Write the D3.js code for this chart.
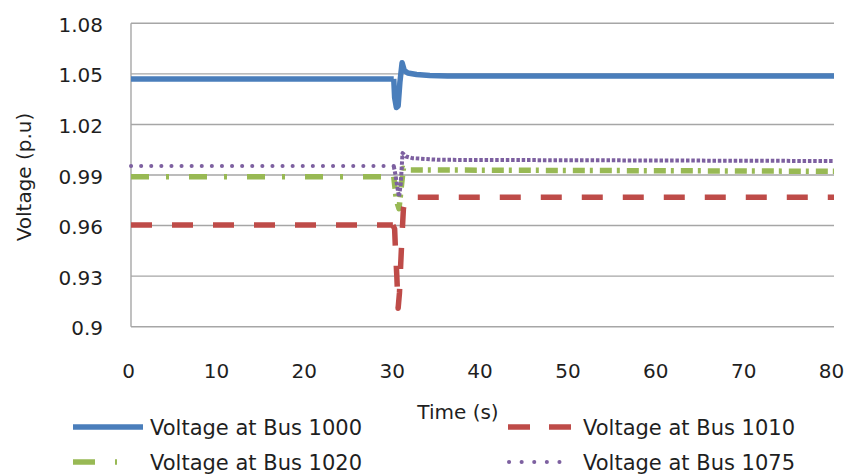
<!DOCTYPE html>
<html>
<head>
<meta charset="utf-8">
<script src="https://cdn.jsdelivr.net/npm/d3@7"></script>
<style>
  html, body { margin: 0; padding: 0; background: #fff; }
  text { font-family: "DejaVu Sans", "Noto Sans", sans-serif; fill: #1f1f1f; }
</style>
</head>
<body>
<svg id="chart" width="849" height="476"></svg>
<script>
// ---- data ----
const xTicks = [0, 10, 20, 30, 40, 50, 60, 70, 80];
const yTicks = [0.9, 0.93, 0.96, 0.99, 1.02, 1.05, 1.08];
const yTickLabels = ["0.9", "0.93", "0.96", "0.99", "1.02", "1.05", "1.08"];

const seriesNames = ["Voltage at Bus 1000", "Voltage at Bus 1010", "Voltage at Bus 1020", "Voltage at Bus 1075"];

const bus1000Time = [0, 29.9, 30.0, 30.2, 30.4, 30.6, 30.85, 31.1, 31.5, 32.5, 34, 36, 80];
const bus1000Volt = [1.047, 1.047, 1.036, 1.030, 1.031, 1.045, 1.0566, 1.052, 1.0505, 1.0496, 1.049, 1.0488, 1.0488];

const bus1010Time = [0, 29.8, 30.0, 30.1, 30.25, 30.4, 30.55, 30.7, 30.85, 31.0, 31.2, 32, 80];
const bus1010Volt = [0.9603, 0.9603, 0.958, 0.945, 0.93, 0.911, 0.92, 0.938, 0.955, 0.970, 0.975, 0.9768, 0.9768];

const bus1020Time = [0, 29.9, 30.2, 30.5, 30.8, 31.0, 31.5, 80];
const bus1020Volt = [0.989, 0.989, 0.975, 0.970, 0.985, 0.994, 0.993, 0.9922];

const bus1075Time = [0, 29.9, 30.1, 30.3, 30.5, 30.7, 30.9, 31.3, 32, 35, 80];
const bus1075Volt = [0.9953, 0.9953, 0.990, 0.983, 0.977, 0.985, 1.003, 1.001, 1.000, 0.999, 0.9983];

// ---- styles ----
const colors = ["#4a7ebb", "#be4b48", "#98b954", "#7d60a0"];

const svg = d3.select("#chart");
const W = 849, H = 476;
const margin = { left: 131, right: 15, top: 23.3, bottom: 149.3 };

const x = d3.scaleLinear().domain([0, 80]).range([margin.left, W - margin.right]);
const y = d3.scaleLinear().domain([0.9, 1.08]).range([H - margin.bottom, margin.top]);

// gridlines
const gridG = svg.append("g");
gridG.selectAll("line").data(yTicks).join("line")
  .attr("x1", x(0)).attr("x2", x(80))
  .attr("y1", d => y(d)).attr("y2", d => y(d))
  .attr("stroke", "#a6a6a6").attr("stroke-width", 1.4);
gridG.append("line")
  .attr("x1", x(0)).attr("x2", x(0))
  .attr("y1", y(0.9)).attr("y2", y(1.08))
  .attr("stroke", "#a6a6a6").attr("stroke-width", 1.4);

// axes (labels only)
const xAxis = d3.axisBottom(x).tickValues(xTicks).tickSize(0).tickPadding(0).tickFormat(d3.format("d"));
const xg = svg.append("g").attr("transform", `translate(-3,${y(0.9) + 51})`).call(xAxis);
xg.select(".domain").remove();
xg.selectAll("text").attr("font-size", 20).attr("dy", 0).attr("font-family", null);

const yAxis = d3.axisLeft(y).tickValues(yTicks).tickSize(0).tickPadding(0)
  .tickFormat((d, i) => yTickLabels[i]);
const yg = svg.append("g").attr("transform", `translate(103,0)`).call(yAxis);
yg.select(".domain").remove();
yg.selectAll("text").attr("font-size", 20).attr("dy", 8).attr("font-family", null);

// axis titles
svg.append("text")
  .attr("transform", `translate(31,177) rotate(-90)`)
  .attr("text-anchor", "middle").attr("font-size", 20)
  .text("Voltage (p.u)");
svg.append("text")
  .attr("x", 458).attr("y", 419)
  .attr("text-anchor", "middle").attr("font-size", 20)
  .text("Time (s)");

// series
const series = [
  { t: bus1000Time, v: bus1000Volt, pre: null, post: null, width: 5.5, cap: "butt", postCap: "butt" },
  { t: bus1010Time, v: bus1010Volt, pre: "21,20", post: "21,20", width: 5.5, cap: "butt", postCap: "butt" },
  { t: bus1020Time, v: bus1020Volt, pre: "18,17,3,20", post: "12,5,3,7", width: 5.5, cap: "butt", postCap: "butt" },
  { t: bus1075Time, v: bus1075Volt, pre: "0.1,10", post: "3.5,1.8", width: 4, cap: "round", postCap: "butt" }
];
const line = d3.line().x(d => x(d[0])).y(d => y(d[1]));

const drawOrder = [2, 3, 1, 0];
drawOrder.forEach(i => {
  const s = series[i];
  const pts = s.t.map((t, k) => [t, s.v[k]]);
  const preIdx = s.t.findIndex(t => t >= 29.8);
  const prePts = pts.slice(0, preIdx + 1);
  const postPts = pts.slice(preIdx);
  [[prePts, s.pre, s.cap], [postPts, s.post, s.postCap]].forEach(([p, dash, cap]) => {
    svg.append("path")
      .datum(p)
      .attr("d", line)
      .attr("fill", "none")
      .attr("stroke", colors[i])
      .attr("stroke-width", s.width)
      .attr("stroke-linecap", cap)
      .attr("stroke-linejoin", "round")
      .attr("stroke-dasharray", dash);
  });
});

// legend
const legendItems = [
  { i: 0, x1: 73, x2: 143, ly: 427, tx: 150 },
  { i: 1, x1: 508, x2: 572, ly: 427, tx: 583 },
  { i: 2, x1: 73, x2: 120, ly: 462, tx: 150 },
  { i: 3, x1: 509, x2: 572, ly: 462, tx: 583 }
];
const legendDash = [null, "22,19", "22,20,2,100", "0.1,12.5"];
const lg = svg.append("g");
legendItems.forEach(it => {
  lg.append("line")
    .attr("x1", it.x1).attr("x2", it.x2)
    .attr("y1", it.ly).attr("y2", it.ly)
    .attr("stroke", colors[it.i])
    .attr("stroke-width", it.i === 3 ? 4 : 5.5)
    .attr("stroke-linecap", it.i === 3 ? "round" : "butt")
    .attr("stroke-dasharray", legendDash[it.i]);
  lg.append("text")
    .attr("x", it.tx).attr("y", it.ly + 8)
    .attr("font-size", 21)
    .text(seriesNames[it.i]);
});
</script>
</body>
</html>
